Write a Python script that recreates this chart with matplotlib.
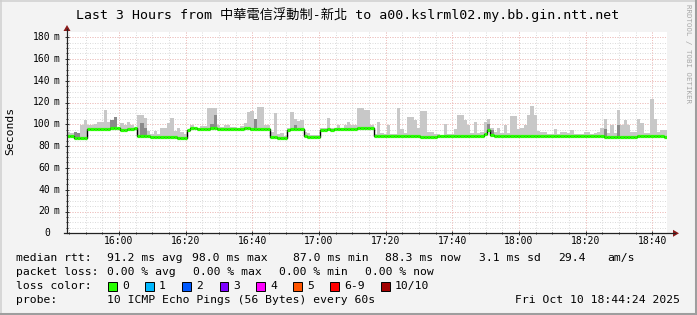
import matplotlib
matplotlib.use("Agg")
import matplotlib.pyplot as plt
from matplotlib.lines import Line2D
from matplotlib.patches import Polygon, Rectangle
import numpy as np

plt.rcParams['font.family'] = ['DejaVu Sans Mono', 'Noto Sans CJK TC']

W, H = 697, 315

# Datos: un valor por minuto desde 15:44:24
start_min = 15 * 60 + 44 + 24 / 60
median = [
    89.5, 89.5, 87.5, 87.5, 87.5, 87.5, 95.5, 95.5, 95.5, 96,
    95.5, 96, 96, 96.5, 97, 96.5, 94.5, 95, 95.5, 96,
    96.5, 89.5, 89, 89, 89, 88.5, 88.5, 88.5, 88.5, 88.5,
    88, 88, 88, 87.5, 87.5, 87, 94.5, 96.5, 96.5, 96,
    96, 96, 96, 96.5, 96.5, 96, 95.5, 96, 96, 96,
    96, 96, 96, 96.5, 96.5, 96, 96, 96, 96, 96,
    96, 88.5, 88, 87, 87, 87, 95, 95.5, 96, 96,
    96, 89, 88.5, 88, 88, 88, 95, 95, 95.5, 95,
    95.5, 96, 95.5, 96, 96, 96, 96, 96.5, 97, 97,
    97, 97, 89, 89, 89, 89, 89, 89, 89, 89,
    89, 89, 89, 89, 89, 89, 88.5, 88.5, 88.5, 88.5,
    88.5, 89, 89, 89, 89, 89, 89, 89, 89, 89,
    89.5, 89.5, 89.5, 89.5, 89.5, 91, 94.5, 90.5, 89, 89,
    89, 89.5, 89.5, 89.5, 89.5, 89.5, 89.5, 89.5, 89.5, 89.5,
    89.5, 89.5, 89.5, 89.5, 89.5, 89.5, 89.5, 89.5, 89.5, 89.5,
    89.5, 89.5, 89.5, 89.5, 89.5, 89.5, 89.5, 89.5, 89.5, 89.5,
    89, 88.5, 88.5, 88.5, 88.5, 88.5, 88.5, 88.5, 88.5, 88.5,
    88.5, 89, 89, 89, 89, 89, 89, 89, 89, 88.5,
]
rtt_max = [
    93, 92, 93, 92, 99, 104, 99, 99, 100, 102,
    102, 113, 102, 104, 107, 97, 101, 99, 102, 99,
    97, 108.5, 108.5, 105.5, 94, 91, 94, 91, 97, 97,
    101, 105.5, 94, 97, 93, 91, 95, 99, 97.5, 97,
    98, 98, 114.7, 114.7, 114.7, 99, 97.5, 99, 99, 97.5,
    97.5, 97, 98, 101, 111.6, 112, 105, 116, 116, 99,
    99, 93, 110, 91, 92, 89, 97, 111, 105, 103,
    104, 93, 92, 90, 90, 90, 97, 97, 106, 97,
    97, 99, 97, 99, 102, 99, 99, 115, 115, 113,
    113, 99, 91, 102.5, 92, 91, 99, 91, 91, 114.7,
    96, 92, 107, 107, 104, 97, 112, 112, 93, 93,
    91, 91, 90, 100, 91, 91, 96, 108.5, 108.5, 104,
    99.8, 92, 102.5, 92, 93, 102.5, 104.6, 97, 93, 97,
    92, 99.8, 92, 107.6, 107.6, 96, 97, 99, 109, 117,
    109, 94, 93, 93, 91, 91, 96, 91, 93, 93,
    92, 95, 91, 91, 91, 93, 93, 91, 92, 93,
    97, 105, 92, 99.8, 92, 113, 99, 104, 99, 93,
    93, 105, 101, 92, 92, 123, 105, 93, 95, 95,
]
dark_min = [2, 3, 13, 14, 22, 23, 43, 44, 56, 68, 126, 127, 161, 165]
dark_top = [93, 92, 104, 107, 101, 97, 100, 109, 105, 99, 100, 95, 96, 99]

tick_labels = ["16:00", "16:20", "16:40", "17:00", "17:20", "17:40", "18:00", "18:20", "18:40"]
y_labels = ["0", "20", "40", "60", "80", "100", "120", "140", "160", "180"]

loss_labels = ["0", "1", "2", "3", "4", "5", "6-9", "10/10"]
loss_colors = ["#26ff00", "#00b8ff", "#0059ff", "#7e00ff", "#ff00ff", "#ff5500", "#ff0000", "#a10000"]


def fx(x):
    return x / W


def fy(y):
    return 1 - y / H


fig = plt.figure(figsize=(W / 100, H / 100), dpi=100, facecolor='#f3f3f3')
ax = fig.add_axes([fx(67), fy(233.3), fx(667) - fx(67), fy(32) - fy(233.3)])
ax.set_facecolor('white')

n = len(median)
edges = np.arange(n + 1)
ax.set_xlim(0, n)
ax.set_ylim(0, 184.7)

# rejilla
tick_pos = [int(t[:2]) * 60 + int(t[3:]) - start_min for t in tick_labels]
minor_x = np.arange(tick_pos[0] - 15, n, 5)
for x in minor_x:
    ax.axvline(x, color='#dcdcdc', lw=0.72, ls=(0, (1, 1.5)), zorder=0)
for y in np.arange(5, 185, 5):
    ax.axhline(y, color='#dcdcdc', lw=0.72, ls=(0, (1, 1.5)), zorder=0)
for x in tick_pos:
    ax.axvline(x, color='#f2bfbc', lw=0.72, ls=(0, (1, 1.5)), zorder=0.5)
for y in range(20, 181, 20):
    ax.axhline(y, color='#f2bfbc', lw=0.72, ls=(0, (1, 1.5)), zorder=0.5)

# humo
ax.stairs(rtt_max, edges, baseline=median, fill=True, color='#c8c8c8', lw=0, zorder=2)
dark_base = [median[m] - 1 for m in dark_min]
ax.bar(np.array(dark_min) + 0.5, np.array(dark_top) - np.array(dark_base), bottom=dark_base,
       width=1, color='#8a8a8a', lw=0, zorder=2.5)

# mediana
ax.stairs(median, edges, baseline=None, color='black', lw=1.0, zorder=3)
ax.hlines(median, edges[:-1], edges[1:], color=loss_colors[0], lw=2.3, zorder=4)

ax.set_xticks(tick_pos)
ax.set_xticks(minor_x, minor=True)
ax.set_yticks(range(0, 181, 20))
ax.set_yticks(range(0, 185, 5), minor=True)
ax.set_xticklabels([])
ax.set_yticklabels([])
ax.tick_params(which='major', length=3, width=0.72, direction='inout', color='#333333')
ax.tick_params(which='minor', length=2, width=0.72, direction='inout', color='#333333')
for s in ax.spines.values():
    s.set_visible(False)

# ejes y flechas
fig.add_artist(Line2D([fx(67), fx(67)], [fy(233.3), fy(29)], transform=fig.transFigure, color='#222222', lw=0.9))
fig.add_artist(Line2D([fx(64), fx(675)], [fy(233.3), fy(233.3)], transform=fig.transFigure, color='#222222', lw=0.9))
fig.add_artist(Polygon([[fx(67), fy(25)], [fx(63.5), fy(31)], [fx(70.5), fy(31)]], closed=True,
                       transform=fig.transFigure, color='#8b1a1a', lw=0))
fig.add_artist(Polygon([[fx(679), fy(233.3)], [fx(673), fy(229.8)], [fx(673), fy(236.8)]], closed=True,
                       transform=fig.transFigure, color='#8b1a1a', lw=0))

# etiquetas de ejes
for x, lab in zip(tick_pos, tick_labels):
    px = 67 + x * 600 / n
    fig.text(fx(px), fy(241.5), lab, ha='center', va='center', fontsize=7)
for i, lab in enumerate(y_labels):
    py = 233.3 - i * 20 * 1.09
    fig.text(fx(50.5), fy(py), lab, ha='right', va='center', fontsize=7)
    if i > 0:
        fig.text(fx(53.5), fy(py), 'm', ha='left', va='center', fontsize=7)
fig.text(fx(10), fy(131), 'Seconds', rotation=90, ha='center', va='center', fontsize=8.2)

fig.text(fx(348), fy(15), 'Last 3 Hours from 中華電信浮動制-新北 to a00.kslrml02.my.bb.gin.ntt.net',
         ha='center', va='center', fontsize=9.5)
fig.text(fx(688), fy(4), 'RRDTOOL / TOBI OETIKER', rotation=270, ha='center', va='top',
         fontsize=5.3, color='#a8a8a8')

# leyenda
fs = 8.2
rows = [258, 272, 286, 300]
line1 = [(16, 'median rtt:'), (107, '91.2 ms avg'), (192, '98.0 ms max'), (293, '87.0 ms min'),
         (385, '88.3 ms now'), (479, '3.1 ms sd'), (558, '29.4'), (607, 'am/s')]
line2 = [(16, 'packet loss:'), (107, '0.00 % avg'), (193, '0.00 % max'), (279, '0.00 % min'),
         (365, '0.00 % now')]
for x, s in line1:
    fig.text(fx(x), fy(rows[0]), s, ha='left', va='center', fontsize=fs)
for x, s in line2:
    fig.text(fx(x), fy(rows[1]), s, ha='left', va='center', fontsize=fs)
fig.text(fx(16), fy(rows[2]), 'loss color:', ha='left', va='center', fontsize=fs)
box_x = [108, 145, 182, 219.5, 256, 293, 330, 381]
for bx, lab, col in zip(box_x, loss_labels, loss_colors):
    fig.add_artist(Rectangle((fx(bx), fy(rows[2] + 4.5)), 8.5 / W, 9 / H, transform=fig.transFigure,
                             facecolor=col, edgecolor='black', lw=0.7))
    fig.text(fx(bx + 14), fy(rows[2]), lab, ha='left', va='center', fontsize=fs)
fig.text(fx(16), fy(rows[3]), 'probe:', ha='left', va='center', fontsize=fs)
fig.text(fx(107), fy(rows[3]), '10 ICMP Echo Pings (56 Bytes) every 60s', ha='left', va='center', fontsize=fs)
fig.text(fx(680), fy(rows[3]), 'Fri Oct 10 18:44:24 2025', ha='right', va='center', fontsize=fs)

# marco 3D
fig.add_artist(Line2D([0, 1], [fy(0.75), fy(0.75)], transform=fig.transFigure, color='#cfcfcf', lw=1.1))
fig.add_artist(Line2D([fx(0.75), fx(0.75)], [0, 1], transform=fig.transFigure, color='#cfcfcf', lw=1.1))
fig.add_artist(Line2D([0, 1], [fy(H - 1.5), fy(H - 1.5)], transform=fig.transFigure, color='#9e9e9e', lw=2.2))
fig.add_artist(Line2D([fx(W - 1.5), fx(W - 1.5)], [0, 1], transform=fig.transFigure, color='#9e9e9e', lw=2.2))

fig.savefig('out.png', dpi=100, facecolor=fig.get_facecolor())
